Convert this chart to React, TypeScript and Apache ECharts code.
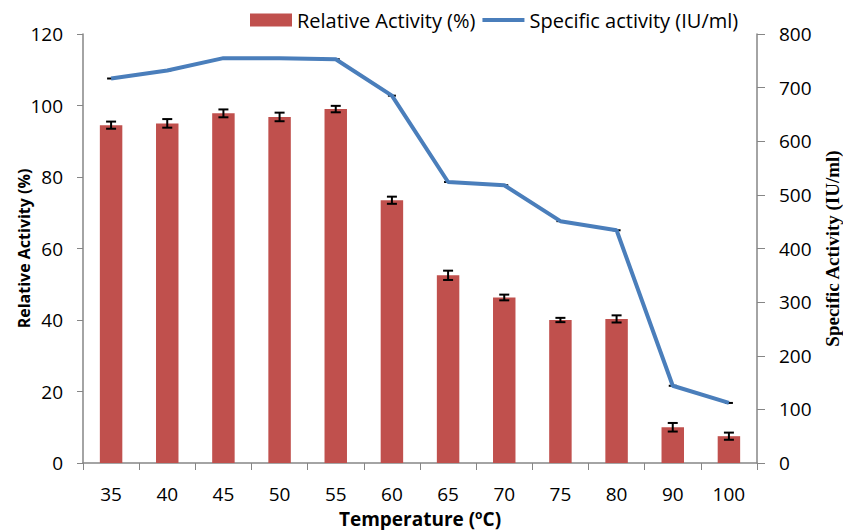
import React, { useEffect, useRef } from "react";
import * as echarts from "echarts";

const categories = ["35", "40", "45", "50", "55", "60", "65", "70", "75", "80", "90", "100"];
const relativeActivity = [94.5, 95, 97.8, 96.8, 99, 73.5, 52.5, 46.3, 40, 40.3, 10, 7.5];
const relativeError = [1, 1.2, 1.1, 1.2, 0.9, 1, 1.3, 0.8, 0.6, 1, 1.2, 1];
const specificActivity = [717, 732, 755, 755, 753, 685, 524, 518, 451, 434, 144, 112];
const leftTicks = { min: 0, max: 120, interval: 20 };
const rightTicks = { min: 0, max: 800, interval: 100 };

export default function App() {
  const ref = useRef<HTMLDivElement>(null);
  useEffect(() => {
    document.body.style.margin = "0";
    const chart = echarts.init(ref.current!, null, { renderer: "svg" });
    const axisColor = "#868686";
    const font = "Open Sans";
    chart.setOption({
      animation: false,
      backgroundColor: "#ffffff",
      grid: { left: 83, right: 86, top: 34, bottom: 67, containLabel: false, outerBoundsMode: "none" },
      legend: {
        top: 5,
        left: 245,
        itemGap: 7,
        itemWidth: 42,
        itemHeight: 13,
        textStyle: { fontFamily: font, fontSize: 20, color: "#000" },
        data: [
          { name: "Relative Activity (%)", icon: "rect" },
          { name: "Specific activity (IU/ml)", icon: "path://M0,0 L42,0 L42,4 L0,4 Z" },
        ],
      },
      xAxis: {
        type: "category",
        data: categories,
        axisLine: { lineStyle: { color: axisColor, width: 1.5 } },
        axisTick: { show: true, alignWithLabel: false, length: 7, lineStyle: { color: axisColor } },
        axisLabel: { fontFamily: font, fontSize: 19, color: "#000", margin: 21 },
        name: "{a|Temperature (}{s|o}{a|C)}",
        nameLocation: "middle",
        nameGap: 45,
        nameMoveOverlap: false,
        nameTextStyle: {
          rich: {
            a: { fontFamily: font, fontSize: 19, fontWeight: "bold", color: "#000" },
            s: { fontFamily: font, fontSize: 12, fontWeight: "bold", color: "#000", verticalAlign: "top", padding: [0, 0, 9, 0] },
          },
        },
      },
      yAxis: [
        {
          type: "value",
          min: leftTicks.min,
          max: leftTicks.max,
          interval: leftTicks.interval,
          axisLine: { show: true, lineStyle: { color: axisColor, width: 1.5 } },
          axisTick: { show: true, length: 6, lineStyle: { color: axisColor } },
          splitLine: { show: false },
          axisLabel: { fontFamily: font, fontSize: 19, color: "#000", margin: 20 },
          name: "Relative Activity (%)",
          nameLocation: "middle",
          nameRotate: 90,
          nameGap: 51,
          nameMoveOverlap: false,
          nameTextStyle: { fontFamily: font, fontSize: 16, fontWeight: "bold", color: "#000" },
        },
        {
          type: "value",
          position: "right",
          min: rightTicks.min,
          max: rightTicks.max,
          interval: rightTicks.interval,
          axisLine: { show: true, lineStyle: { color: axisColor, width: 1.5 } },
          axisTick: { show: true, length: 8, lineStyle: { color: axisColor } },
          splitLine: { show: false },
          axisLabel: { fontFamily: font, fontSize: 19, color: "#000", margin: 22 },
          name: "Specific Activity (IU/ml)",
          nameLocation: "middle",
          nameRotate: 90,
          nameGap: 66,
          nameTextStyle: { fontFamily: "Liberation Serif", fontSize: 19, fontWeight: "bold", color: "#000" },
        },
      ],
      series: [
        {
          name: "Relative Activity (%)",
          type: "bar",
          yAxisIndex: 0,
          data: relativeActivity,
          barWidth: "40%",
          itemStyle: { color: "#C0504D" },
          z: 2,
        },
        {
          name: "errors",
          type: "custom",
          yAxisIndex: 0,
          z: 4,
          data: relativeActivity.map((v, i) => [i, v, relativeError[i]]),
          renderItem: (params: any, api: any) => {
            const i = api.value(0);
            const v = api.value(1);
            const e = api.value(2);
            const top = api.coord([i, v + e]);
            const bot = api.coord([i, v - e]);
            const hw = 5;
            const style = { stroke: "#000", lineWidth: 2 };
            return {
              type: "group",
              children: [
                { type: "line", shape: { x1: top[0], y1: top[1], x2: bot[0], y2: bot[1] }, style },
                { type: "line", shape: { x1: top[0] - hw, y1: top[1], x2: top[0] + hw, y2: top[1] }, style },
                { type: "line", shape: { x1: bot[0] - hw, y1: bot[1], x2: bot[0] + hw, y2: bot[1] }, style },
              ],
            };
          },
        },
        {
          name: "dashes",
          type: "custom",
          yAxisIndex: 1,
          z: 3,
          data: specificActivity.map((v, i) => [i, v]),
          renderItem: (params: any, api: any) => {
            const p = api.coord([api.value(0), api.value(1)]);
            return {
              type: "line",
              shape: { x1: p[0] - 4, y1: p[1], x2: p[0] + 4, y2: p[1] },
              style: { stroke: "#000", lineWidth: 2 },
            };
          },
        },
        {
          name: "Specific activity (IU/ml)",
          type: "line",
          yAxisIndex: 1,
          data: specificActivity,
          symbol: "none",
          lineStyle: { color: "#4A7EBB", width: 4 },
          itemStyle: { color: "#4A7EBB" },
          z: 5,
        },
      ],
    });
    return () => chart.dispose();
  }, []);
  return <div ref={ref} style={{ width: 843, height: 530 }} />;
}
